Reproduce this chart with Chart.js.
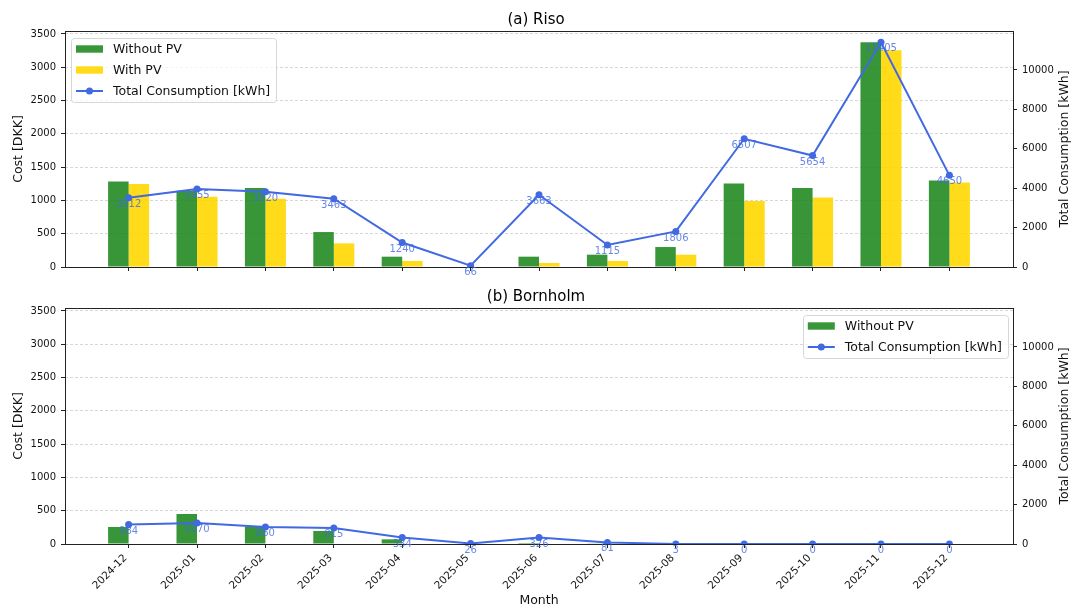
<!DOCTYPE html>
<html>
<head>
<meta charset="utf-8">
<script src="https://cdn.jsdelivr.net/npm/chart.js@4.4.0/dist/chart.umd.min.js"></script>
<style>
  html, body { margin: 0; padding: 0; background: #fff; }
  #wrap { position: relative; width: 1072px; height: 607px; overflow: hidden; }
  #c1 { position: absolute; left: 0; top: 0; }
  #c2 { position: absolute; left: 0; top: 285px; }
</style>
</head>
<body>
<div id="wrap">
  <canvas id="c1" width="1072" height="285"></canvas>
  <canvas id="c2" width="1072" height="322"></canvas>
</div>
<script>
// data
var months = ['2024-12', '2025-01', '2025-02', '2025-03', '2025-04', '2025-05', '2025-06',
              '2025-07', '2025-08', '2025-09', '2025-10', '2025-11', '2025-12'];

var risoWithoutPV = [1285, 1145, 1185, 525, 155, 0, 155, 185, 300, 1255, 1185, 3375, 1300];
var risoWithPV    = [1245, 1055, 1025, 355, 90, 0, 60, 90, 185, 990, 1045, 3255, 1270];
var risoTotal     = [3512, 3955, 3820, 3463, 1240, 66, 3663, 1115, 1806, 6507, 5654, 11405, 4650];

var bornWithoutPV = [256, 451, 262, 196, 70, 0, 15, 10, 0, 0, 0, 0, 0];
var bornTotal     = [984, 1070, 860, 815, 334, 26, 326, 81, 3, 0, 0, 0, 0];

var costTicks = [0, 500, 1000, 1500, 2000, 2500, 3000, 3500];
var kwhTicks  = [0, 2000, 4000, 6000, 8000, 10000];

var FONT = "'DejaVu Sans', sans-serif";
var GREEN = 'rgba(34, 139, 34, 0.9)';
var GOLD = 'rgba(255, 215, 0, 0.9)';
var BLUE = 'rgb(65, 105, 225)';

Chart.defaults.font.family = FONT;
Chart.defaults.color = '#111';

function pts(vals) {
  return vals.map(function (v, i) { return { x: i, y: v }; });
}

// matplotlib-like boxed legend inside the plot
var boxLegend = {
  id: 'boxLegend',
  afterDraw: function (chart, args, opts) {
    var ctx = chart.ctx, area = chart.chartArea;
    var items = chart.data.datasets.filter(function (d) { return !d.hideLegend; });
    ctx.save();
    ctx.font = '12.5px ' + FONT;
    var tw = Math.max.apply(null, items.map(function (d) { return ctx.measureText(d.label).width; }));
    var padL = 5, hw = 27, gap = 10, padR = 6, rowH = 21, padT = 11;
    var w = padL + hw + gap + tw + padR;
    var h = padT * 2 + rowH * (items.length - 1);
    var x = opts.align === 'right' ? area.right - 5 - w : area.left + 6;
    var y = area.top + 7;
    ctx.beginPath();
    ctx.roundRect(Math.round(x) + 0.5, Math.round(y) + 0.5, Math.round(w), Math.round(h), 3);
    ctx.fillStyle = 'rgba(255,255,255,0.8)';
    ctx.fill();
    ctx.strokeStyle = '#d6d6d6';
    ctx.lineWidth = 1;
    ctx.stroke();
    items.forEach(function (d, i) {
      var cy = y + padT + i * rowH;
      var hx = x + padL;
      if (d.type === 'line') {
        ctx.strokeStyle = d.borderColor;
        ctx.lineWidth = 2;
        ctx.beginPath();
        ctx.moveTo(hx, cy);
        ctx.lineTo(hx + hw, cy);
        ctx.stroke();
        ctx.fillStyle = d.borderColor;
        ctx.beginPath();
        ctx.arc(hx + hw / 2, cy, 3.5, 0, Math.PI * 2);
        ctx.fill();
      } else {
        ctx.fillStyle = d.backgroundColor;
        ctx.fillRect(hx, cy - 3.7, hw, 7.4);
      }
      ctx.fillStyle = '#111';
      ctx.textBaseline = 'middle';
      ctx.textAlign = 'left';
      ctx.fillText(d.label, hx + hw + gap, cy + 0.5);
    });
    ctx.restore();
  }
};

// axes box
var frame = {
  id: 'frame',
  afterDatasetsDraw: function (chart) {
    var ctx = chart.ctx, a = chart.chartArea;
    ctx.save();
    ctx.strokeStyle = '#222';
    ctx.lineWidth = 1;
    ctx.strokeRect(Math.round(a.left) + 0.5, Math.round(a.top) + 0.5,
                   Math.round(a.right - a.left), Math.round(a.bottom - a.top));
    ctx.restore();
  }
};

// value labels under the consumption points
var pointLabels = {
  id: 'pointLabels',
  afterDatasetsDraw: function (chart) {
    var ctx = chart.ctx;
    chart.data.datasets.forEach(function (d, i) {
      if (d.type !== 'line') return;
      var meta = chart.getDatasetMeta(i);
      ctx.save();
      ctx.font = '10px ' + FONT;
      ctx.fillStyle = 'rgba(65,105,225,0.8)';
      ctx.textAlign = 'center';
      ctx.textBaseline = 'middle';
      meta.data.forEach(function (pt, j) {
        ctx.fillText(String(d.data[j].y), pt.x, pt.y + 6.5);
      });
      ctx.restore();
    });
  }
};

// right axis title reads bottom-to-top like matplotlib
var rightTitle = {
  id: 'rightTitle',
  afterDraw: function (chart) {
    var ctx = chart.ctx, a = chart.chartArea;
    ctx.save();
    ctx.translate(1065, (a.top + a.bottom) / 2);
    ctx.rotate(-Math.PI / 2);
    ctx.font = '12.5px ' + FONT;
    ctx.fillStyle = '#111';
    ctx.textAlign = 'center';
    ctx.textBaseline = 'middle';
    ctx.fillText('Total Consumption [kWh]', 0, 0);
    ctx.restore();
  }
};

function makeScales(showX, xHeight) {
  return {
    x: {
      type: 'linear', min: -0.93, max: 12.93, offset: false,
      grid: { display: true, offset: false, drawOnChartArea: false, drawTicks: true, tickLength: 4, tickColor: '#222', tickBorderDash: [] },
      border: { display: false },
      afterBuildTicks: function (s) { s.ticks = months.map(function (m, i) { return { value: i }; }); },
      ticks: {
        display: showX, autoSkip: false, maxRotation: 45, minRotation: 45, padding: 4, labelOffset: -3,
        font: { size: 10.5 }, color: '#111',
        callback: function (v) { return months[v]; }
      },
      title: { display: showX, text: 'Month', font: { size: 12.5 }, color: '#111', padding: { top: 0, bottom: -1 } },
      afterFit: function (s) { s.height = xHeight; }
    },
    y: {
      position: 'left', min: 0, max: 3545,
      afterBuildTicks: function (s) { s.ticks = costTicks.map(function (v) { return { value: v }; }); },
      grid: { color: 'rgba(176,176,176,0.5)', tickColor: '#222', tickLength: 4, tickBorderDash: [] },
      border: { display: false, dash: [3, 2] },
      ticks: { padding: 5, font: { size: 10 }, color: '#111', callback: function (v) { return String(v); } },
      title: { display: true, text: 'Cost [DKK]', font: { size: 12.5 }, color: '#111', padding: { top: 11, bottom: 0 } },
      afterFit: function (s) { s.width = 65; }
    },
    y1: {
      position: 'right', min: 0, max: 11975,
      afterBuildTicks: function (s) { s.ticks = kwhTicks.map(function (v) { return { value: v }; }); },
      grid: { drawOnChartArea: false, tickColor: '#222', tickLength: 4, tickBorderDash: [] },
      border: { display: false },
      ticks: { padding: 5, font: { size: 10 }, color: '#111', callback: function (v) { return String(v); } },
      afterFit: function (s) { s.width = 59; }
    }
  };
}

function lineSet(vals) {
  return {
    type: 'line', label: 'Total Consumption [kWh]', data: pts(vals), yAxisID: 'y1', order: 0,
    borderColor: BLUE, backgroundColor: BLUE, borderWidth: 2, tension: 0,
    pointRadius: 3.5, pointBorderWidth: 0, pointBackgroundColor: BLUE
  };
}

var ctx1 = document.getElementById('c1').getContext('2d');
var risoChart = new Chart(ctx1, {
  type: 'bar',
  data: {
    datasets: [
      { type: 'bar', label: 'Without PV', data: pts(risoWithoutPV), backgroundColor: GREEN, yAxisID: 'y', order: 1,
        categoryPercentage: 0.6, barPercentage: 1.0 },
      { type: 'bar', label: 'With PV', data: pts(risoWithPV), backgroundColor: GOLD, yAxisID: 'y', order: 1,
        categoryPercentage: 0.6, barPercentage: 1.0 },
      lineSet(risoTotal)
    ]
  },
  options: {
    responsive: false,
    animation: false,
    events: [],
    layout: { padding: 0 },
    plugins: {
      legend: { display: false },
      tooltip: { enabled: false },
      title: { display: true, text: '(a) Riso', font: { size: 15, weight: 'normal' }, color: '#000', padding: { top: 11, bottom: 2 } },
      boxLegend: { align: 'left' }
    },
    scales: makeScales(false, 18)
  },
  plugins: [frame, pointLabels, boxLegend, rightTitle]
});

var ctx2 = document.getElementById('c2').getContext('2d');
var bornChart = new Chart(ctx2, {
  type: 'bar',
  data: {
    datasets: [
      { type: 'bar', label: 'Without PV', data: pts(bornWithoutPV), backgroundColor: GREEN, yAxisID: 'y', order: 1,
        categoryPercentage: 0.6, barPercentage: 1.0 },
      { type: 'bar', label: 'With PV', data: pts(months.map(function () { return 0; })), backgroundColor: 'rgba(0,0,0,0)',
        yAxisID: 'y', order: 1, categoryPercentage: 0.6, barPercentage: 1.0, hideLegend: true },
      lineSet(bornTotal)
    ]
  },
  options: {
    responsive: false,
    animation: false,
    events: [],
    layout: { padding: 0 },
    plugins: {
      legend: { display: false },
      tooltip: { enabled: false },
      title: { display: true, text: '(b) Bornholm', font: { size: 15, weight: 'normal' }, color: '#000', padding: { top: 3, bottom: 2 } },
      boxLegend: { align: 'right' }
    },
    scales: makeScales(true, 63)
  },
  plugins: [frame, pointLabels, boxLegend, rightTitle]
});
</script>
</body>
</html>
